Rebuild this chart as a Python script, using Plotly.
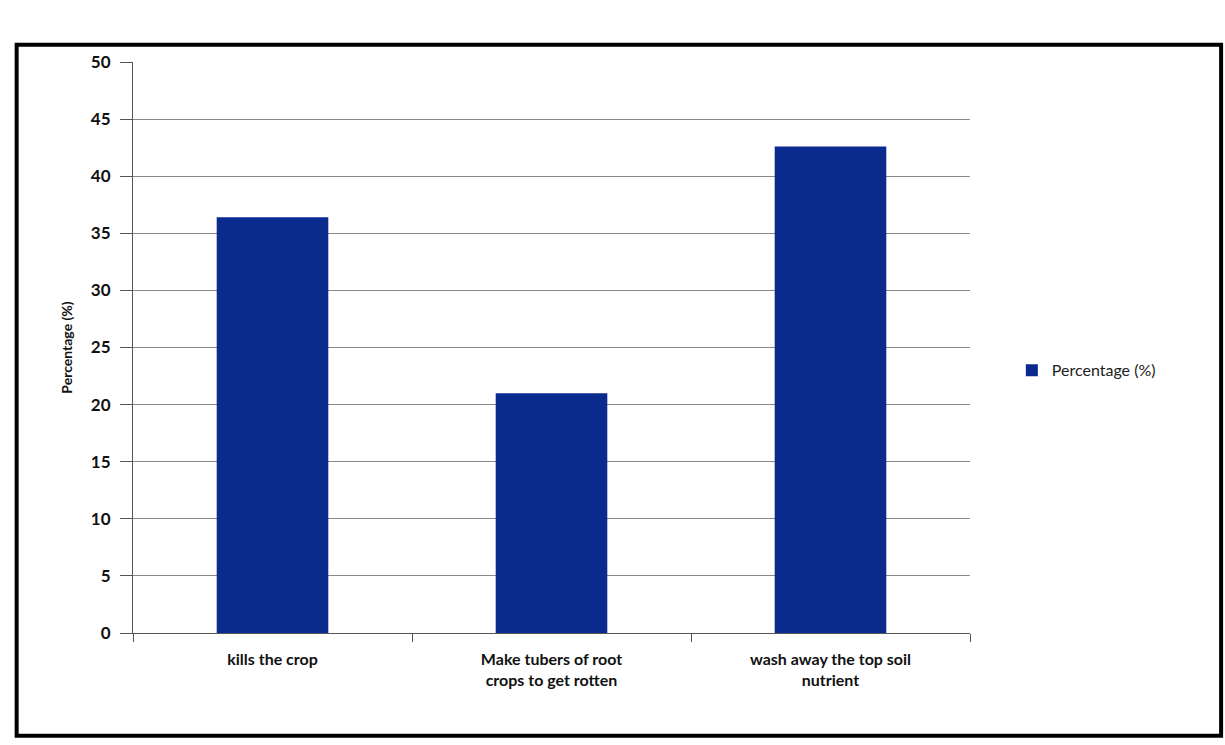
import plotly.graph_objects as go

categories = ["kills the crop", "Make tubers of root<br>crops to get rotten", "wash away the top soil<br>nutrient"]
values = [36.4, 21.0, 42.6]
series_name = "Percentage (%)"
y_ticks = [0, 5, 10, 15, 20, 25, 30, 35, 40, 45, 50]

FONT = "Lato, 'Open Sans', sans-serif"

fig = go.Figure()
fig.add_trace(go.Bar(
    x=categories, y=values, name=series_name,
    marker=dict(color="#0B2A8E", line=dict(width=0)),
))

fig.update_layout(
    width=1225, height=745,
    margin=dict(l=133, r=255, t=62, b=112),
    paper_bgcolor="white", plot_bgcolor="white",
    bargap=0.6,
    showlegend=True,
    legend=dict(x=1.05, y=0.46, xanchor="left", yanchor="middle",
                font=dict(family=FONT, size=16, color="#222"),
                itemwidth=30, bgcolor="rgba(0,0,0,0)"),
    font=dict(family=FONT, color="#111"),
    shapes=[dict(type="rect", xref="paper", yref="paper",
                 x0=-0.139, x1=1.3, y0=-0.18, y1=1.03,
                 line=dict(color="black", width=4), layer="below")],
)
fig.update_xaxes(
    showline=True, linecolor="#555", linewidth=1.2,
    ticks="outside", tickson="boundaries", ticklen=8, tickcolor="#555",
    tickfont=dict(family=FONT, size=16, color="#111", weight="bold"),
    ticklabelstandoff=12,
    showgrid=False,
)
fig.update_yaxes(
    range=[0, 50], tickvals=y_ticks,
    showline=True, linecolor="#555", linewidth=1.2,
    ticks="outside", ticklen=12, tickcolor="#555",
    showgrid=True, gridcolor="#8a8a8a", gridwidth=1.2,
    tickfont=dict(family=FONT, size=17, color="#111", weight="bold"),
    ticklabelstandoff=6,
    title=dict(text="Percentage (%)", font=dict(family=FONT, size=14, color="#111", weight="bold"), standoff=14),
    zeroline=False,
)

fig.write_html("out.html")
